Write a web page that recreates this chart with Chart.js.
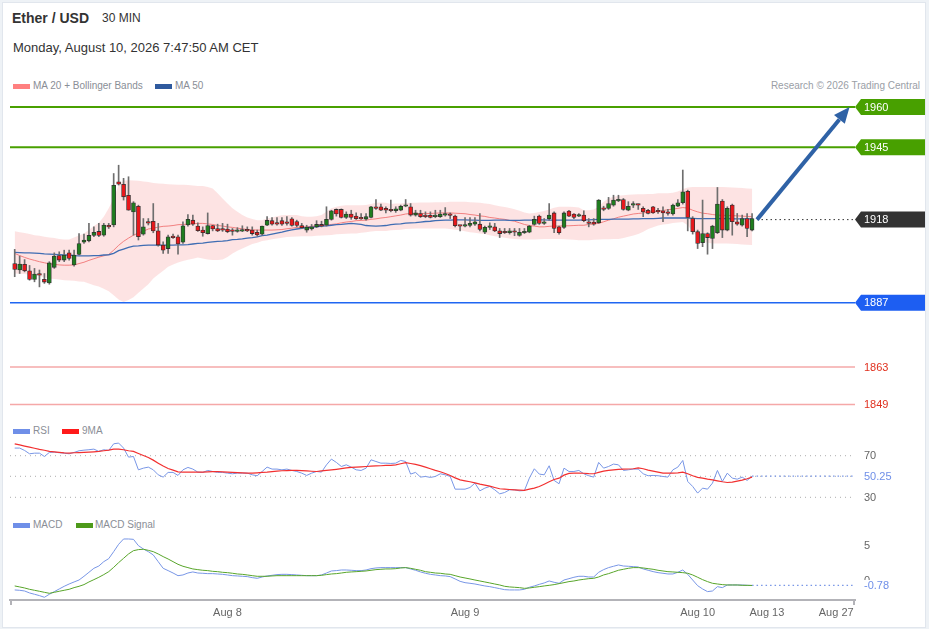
<!DOCTYPE html>
<html>
<head>
<meta charset="utf-8">
<title>Ether / USD 30 MIN</title>
<script src="https://cdn.jsdelivr.net/npm/chart.js@4.4.1/dist/chart.umd.min.js"></script>
<style>
  html, body { margin: 0; padding: 0; }
  body { width: 929px; height: 629px; position: relative; overflow: hidden; background: #eef2f6;
         font-family: "Liberation Sans", Arial, sans-serif; }
  #frame { position: absolute; left: 2px; top: 2px; width: 922px; height: 624px; background: #fff; border: 1px solid #e1e6ed; }
  .txt { position: absolute; white-space: nowrap; line-height: 1; }
  .sw { position: absolute; width: 17px; height: 5px; }
  canvas { position: absolute; left: 0; }
</style>
</head>
<body>
<div id="frame"></div>

<!-- entete -->
<div class="txt" style="left:12px; top:11px; font-size:14px; font-weight:bold; color:#333;">Ether / USD</div>
<div class="txt" style="left:102px; top:12px; font-size:12px; color:#333;">30 MIN</div>
<div class="txt" style="left:13px; top:41px; font-size:13px; color:#333;">Monday, August 10, 2026 7:47:50 AM CET</div>

<!-- legendes -->
<div class="sw" style="left:13px; top:84px; background:#ff8080;"></div>
<div class="txt" style="left:33px; top:81px; font-size:10px; color:#8a8e96;">MA 20 + Bollinger Bands</div>
<div class="sw" style="left:155px; top:84px; background:#2f5a9e;"></div>
<div class="txt" style="left:175px; top:81px; font-size:10px; color:#8a8e96;">MA 50</div>
<div class="txt" style="right:9px; top:81px; font-size:10px; color:#9a9ea6;">Research © 2026 Trading Central</div>

<div class="sw" style="left:13px; top:429px; background:#6f8fe8;"></div>
<div class="txt" style="left:33px; top:426px; font-size:10px; color:#8a8e96;">RSI</div>
<div class="sw" style="left:62px; top:429px; background:#ff1a1a;"></div>
<div class="txt" style="left:82px; top:426px; font-size:10px; color:#8a8e96;">9MA</div>

<div class="sw" style="left:13px; top:523px; background:#6f8fe8;"></div>
<div class="txt" style="left:33px; top:520px; font-size:10px; color:#8a8e96;">MACD</div>
<div class="sw" style="left:76px; top:523px; background:#4d9a1a;"></div>
<div class="txt" style="left:95px; top:520px; font-size:10px; color:#8a8e96;">MACD Signal</div>

<canvas id="priceChart" width="929" height="320" style="top:95px;"></canvas>
<canvas id="rsiChart" width="929" height="72" style="top:436px;"></canvas>
<canvas id="macdChart" width="929" height="97" style="top:532px;"></canvas>

<script>
// BOUGIES 30 MIN
const candleOpen = [
  1901.6, 1899.2, 1901.3, 1898.9, 1895.7, 1897.4, 1895.7, 1894.4, 1900.2, 1904.6,
  1902.9, 1905.6, 1901.1, 1905.0, 1909.6, 1910.1, 1912.1, 1913.6, 1912.2, 1915.8,
  1916.0, 1932.1, 1931.2, 1927.1, 1920.9, 1923.0, 1912.6, 1916.8, 1917.4, 1913.8,
  1908.5, 1907.2, 1911.8, 1911.6, 1909.6, 1916.0, 1917.8, 1915.6, 1914.1, 1912.8,
  1915.8, 1914.7, 1914.5, 1914.5, 1913.8, 1913.6, 1913.7, 1914.2, 1914.1, 1913.3,
  1912.6, 1915.9, 1917.6, 1916.8, 1917.6, 1917.2, 1918.3, 1917.3, 1915.8, 1914.1,
  1914.5, 1915.3, 1916.2, 1915.9, 1918.1, 1921.8, 1921.8, 1918.8, 1920.1, 1919.3,
  1918.8, 1918.2, 1918.8, 1922.8, 1922.8, 1922.2, 1921.8, 1921.3, 1921.5, 1923.0,
  1922.8, 1919.7, 1920.3, 1919.7, 1919.6, 1919.1, 1919.1, 1919.7, 1919.9, 1919.3,
  1915.9, 1915.6, 1915.8, 1916.3, 1916.3, 1913.3, 1915.1, 1915.3, 1913.8, 1913.3,
  1913.1, 1913.8, 1912.1, 1913.1, 1913.3, 1916.2, 1919.3, 1916.6, 1918.3, 1920.5,
  1915.3, 1915.1, 1921.2, 1920.1, 1919.3, 1919.7, 1917.2, 1917.1, 1916.8, 1922.3,
  1922.2, 1923.4, 1925.0, 1925.5, 1921.5, 1923.4, 1923.8, 1922.2, 1921.5, 1922.8,
  1921.5, 1921.3, 1920.9, 1920.1, 1923.0, 1924.3, 1928.6, 1918.4, 1913.5, 1909.4,
  1912.8, 1911.0, 1913.1, 1924.9, 1914.1, 1923.4, 1917.2, 1915.9, 1918.4, 1914.1
];
const candleHigh = [
  1906.9, 1904.4, 1903.1, 1900.9, 1899.8, 1899.2, 1897.9, 1902.3, 1905.6, 1906.0,
  1906.6, 1906.6, 1906.6, 1912.8, 1912.6, 1916.6, 1915.3, 1916.6, 1916.6, 1916.6,
  1935.2, 1938.3, 1933.4, 1934.0, 1924.7, 1923.4, 1918.4, 1918.4, 1924.0, 1916.6,
  1909.7, 1912.2, 1912.6, 1912.2, 1917.2, 1919.9, 1919.7, 1916.8, 1915.3, 1920.5,
  1915.9, 1916.3, 1916.6, 1916.3, 1914.7, 1915.0, 1915.7, 1915.3, 1915.3, 1914.1,
  1915.6, 1919.1, 1918.8, 1918.8, 1918.8, 1919.1, 1918.8, 1917.8, 1916.6, 1915.9,
  1916.2, 1917.6, 1917.4, 1922.8, 1921.5, 1922.0, 1922.0, 1920.9, 1921.5, 1920.5,
  1920.3, 1920.3, 1923.0, 1925.5, 1923.8, 1922.8, 1925.3, 1922.8, 1923.4, 1925.5,
  1924.0, 1921.5, 1921.5, 1920.9, 1920.9, 1921.5, 1921.5, 1922.5, 1920.5, 1919.7,
  1915.9, 1918.8, 1918.8, 1918.8, 1920.3, 1915.6, 1916.8, 1916.6, 1914.7, 1914.7,
  1914.7, 1914.7, 1914.7, 1914.7, 1915.9, 1919.3, 1919.7, 1918.4, 1924.0, 1920.9,
  1915.6, 1920.9, 1921.5, 1920.3, 1920.3, 1921.3, 1918.4, 1918.4, 1925.5, 1923.0,
  1926.3, 1927.1, 1927.1, 1925.9, 1924.7, 1924.7, 1923.8, 1922.8, 1921.8, 1923.0,
  1922.2, 1922.8, 1921.8, 1923.8, 1925.5, 1936.5, 1929.0, 1919.1, 1914.1, 1925.3,
  1913.1, 1915.9, 1930.0, 1925.5, 1922.8, 1923.8, 1920.3, 1919.7, 1920.3, 1920.3
];
const candleLow = [
  1896.7, 1897.9, 1898.5, 1895.4, 1894.8, 1892.9, 1894.2, 1893.9, 1899.8, 1902.3,
  1902.3, 1902.9, 1900.6, 1904.8, 1909.1, 1909.7, 1911.6, 1911.6, 1911.8, 1914.7,
  1915.3, 1930.9, 1925.3, 1921.5, 1912.2, 1910.4, 1912.2, 1916.0, 1913.1, 1908.1,
  1905.4, 1905.4, 1911.0, 1905.1, 1909.1, 1915.6, 1915.8, 1913.6, 1911.8, 1912.6,
  1913.8, 1913.5, 1913.6, 1913.1, 1912.2, 1913.3, 1913.5, 1913.5, 1912.2, 1911.8,
  1912.2, 1915.7, 1915.9, 1915.9, 1915.8, 1915.9, 1915.6, 1915.3, 1914.6, 1913.3,
  1914.1, 1915.0, 1915.3, 1915.6, 1917.8, 1919.3, 1918.6, 1918.4, 1918.1, 1918.1,
  1918.1, 1917.8, 1918.6, 1921.8, 1921.3, 1920.5, 1920.9, 1920.7, 1921.3, 1922.8,
  1919.3, 1919.3, 1918.8, 1918.7, 1918.6, 1918.7, 1918.8, 1919.3, 1918.4, 1915.3,
  1913.8, 1915.3, 1915.3, 1915.8, 1913.8, 1912.8, 1914.3, 1913.5, 1911.3, 1912.8,
  1912.6, 1912.0, 1911.8, 1912.8, 1913.1, 1915.9, 1916.2, 1916.2, 1917.8, 1913.1,
  1912.6, 1914.7, 1919.1, 1918.4, 1919.1, 1917.2, 1915.3, 1915.9, 1916.6, 1921.3,
  1921.8, 1923.0, 1924.7, 1921.5, 1921.3, 1922.5, 1921.8, 1919.1, 1920.1, 1920.3,
  1920.3, 1917.2, 1919.7, 1919.7, 1922.8, 1923.8, 1913.8, 1912.6, 1907.2, 1907.9,
  1905.1, 1907.2, 1912.8, 1911.3, 1913.8, 1912.2, 1915.9, 1915.6, 1911.6, 1913.8
];
const candleClose = [
  1899.4, 1901.4, 1898.9, 1895.7, 1897.7, 1897.3, 1894.7, 1901.9, 1904.4, 1902.9,
  1904.8, 1903.5, 1904.8, 1909.1, 1910.4, 1912.1, 1913.3, 1912.1, 1916.0, 1915.3,
  1930.8, 1931.2, 1926.5, 1921.5, 1924.3, 1911.6, 1915.3, 1916.7, 1913.8, 1908.5,
  1906.6, 1911.6, 1911.3, 1908.9, 1915.7, 1918.1, 1916.3, 1913.9, 1913.1, 1915.8,
  1914.5, 1913.8, 1914.1, 1913.5, 1913.6, 1914.1, 1914.2, 1913.8, 1912.8, 1912.3,
  1915.6, 1917.7, 1916.3, 1916.3, 1916.3, 1916.6, 1915.8, 1915.8, 1915.0, 1915.2,
  1915.3, 1916.2, 1915.6, 1918.1, 1921.3, 1920.1, 1918.8, 1920.1, 1918.8, 1918.3,
  1918.3, 1919.1, 1922.8, 1922.2, 1921.5, 1921.5, 1921.3, 1922.0, 1923.0, 1923.3,
  1919.7, 1920.5, 1919.1, 1919.1, 1918.8, 1919.7, 1920.1, 1920.1, 1919.6, 1915.7,
  1915.6, 1915.8, 1916.6, 1917.2, 1914.3, 1915.1, 1915.6, 1913.8, 1912.8, 1913.1,
  1913.8, 1913.3, 1913.3, 1913.6, 1915.6, 1918.1, 1916.6, 1917.1, 1919.7, 1914.7,
  1913.1, 1920.5, 1919.3, 1918.8, 1919.7, 1917.6, 1916.6, 1916.3, 1925.3, 1921.8,
  1924.0, 1925.3, 1925.5, 1921.8, 1923.0, 1923.8, 1923.4, 1920.9, 1920.3, 1920.5,
  1920.9, 1920.5, 1920.3, 1923.4, 1924.3, 1928.4, 1918.8, 1913.5, 1909.1, 1912.8,
  1911.3, 1915.6, 1923.8, 1914.1, 1922.2, 1917.2, 1916.3, 1918.4, 1914.7, 1918.4
];

// MOYENNES MOBILES ET BANDES DE BOLLINGER
const ma20 = [
  1905.4, 1904.6, 1903.9, 1903.3, 1902.8, 1902.3, 1901.9, 1901.5, 1901.3, 1901.1,
  1901.0, 1901.0, 1901.1, 1901.6, 1902.1, 1902.8, 1903.4, 1904.0, 1904.5, 1905.0,
  1906.6, 1908.4, 1909.9, 1911.1, 1912.2, 1913.0, 1913.7, 1914.5, 1914.8, 1915.2,
  1915.5, 1915.6, 1915.8, 1916.1, 1916.2, 1916.3, 1916.4, 1916.6, 1916.6, 1916.4,
  1916.2, 1915.8, 1915.6, 1915.3, 1915.1, 1914.8, 1914.6, 1914.3, 1914.2, 1914.1,
  1914.1, 1914.1, 1914.1, 1914.2, 1914.3, 1914.6, 1914.8, 1915.1, 1915.2, 1915.3,
  1915.5, 1915.7, 1915.8, 1915.9, 1916.2, 1916.4, 1916.8, 1917.1, 1917.3, 1917.6,
  1917.7, 1917.8, 1918.1, 1918.3, 1918.6, 1918.8, 1919.1, 1919.4, 1919.7, 1920.1,
  1920.3, 1920.3, 1920.3, 1920.3, 1920.3, 1920.4, 1920.5, 1920.5, 1920.5, 1920.4,
  1920.3, 1920.2, 1919.9, 1919.7, 1919.4, 1919.2, 1918.8, 1918.6, 1918.3, 1918.1,
  1917.7, 1917.4, 1916.8, 1916.2, 1915.8, 1915.6, 1915.3, 1915.3, 1915.5, 1915.6,
  1915.6, 1915.7, 1915.7, 1915.8, 1915.9, 1915.9, 1916.2, 1916.4, 1916.6, 1917.2,
  1917.8, 1918.3, 1918.9, 1919.3, 1919.7, 1920.1, 1920.3, 1920.5, 1920.8, 1920.9,
  1921.2, 1921.4, 1921.7, 1921.9, 1922.2, 1922.5, 1922.3, 1921.5, 1920.9, 1920.4,
  1920.2, 1919.9, 1919.7, 1919.6, 1919.6, 1919.5, 1919.4, 1919.3, 1919.2, 1919.1
];
const ma50 = [
  1905.8, 1905.7, 1905.6, 1905.6, 1905.5, 1905.4, 1905.2, 1905.1, 1905.0, 1904.9,
  1904.8, 1904.8, 1904.6, 1904.5, 1904.5, 1904.5, 1904.6, 1904.6, 1904.8, 1904.9,
  1905.4, 1906.4, 1907.0, 1907.6, 1908.1, 1908.2, 1908.4, 1908.5, 1908.5, 1908.5,
  1908.5, 1908.5, 1908.5, 1908.6, 1908.6, 1908.7, 1908.9, 1909.1, 1909.2, 1909.5,
  1909.7, 1909.9, 1910.0, 1910.2, 1910.5, 1910.6, 1910.8, 1911.1, 1911.3, 1911.6,
  1912.0, 1912.2, 1912.6, 1913.0, 1913.3, 1913.8, 1914.2, 1914.5, 1914.7, 1915.0,
  1915.2, 1915.3, 1915.6, 1915.7, 1915.9, 1916.1, 1916.2, 1916.4, 1916.6, 1916.4,
  1916.2, 1915.8, 1915.7, 1915.6, 1915.7, 1915.8, 1916.1, 1916.3, 1916.4, 1916.7,
  1916.8, 1916.9, 1917.1, 1917.3, 1917.4, 1917.6, 1917.7, 1917.8, 1917.8, 1917.9,
  1917.9, 1917.9, 1917.8, 1917.8, 1917.7, 1917.7, 1917.7, 1917.8, 1917.8, 1917.8,
  1917.7, 1917.7, 1917.7, 1917.8, 1917.8, 1917.8, 1917.9, 1917.9, 1917.8, 1917.8,
  1917.8, 1917.8, 1917.8, 1917.8, 1917.8, 1917.9, 1917.9, 1918.0, 1918.1, 1918.1,
  1918.1, 1918.2, 1918.2, 1918.2, 1918.2, 1918.3, 1918.3, 1918.4, 1918.4, 1918.4,
  1918.5, 1918.6, 1918.6, 1918.6, 1918.6, 1918.6, 1918.6, 1918.5, 1918.4, 1918.4,
  1918.4, 1918.4, 1918.4, 1918.4, 1918.4, 1918.3, 1918.3, 1918.3, 1918.3, 1918.3
];
const bbUpper = [
  1913.7, 1913.3, 1913.0, 1912.6, 1912.2, 1912.0, 1911.6, 1911.3, 1911.1, 1910.8,
  1910.6, 1910.6, 1911.3, 1912.1, 1912.8, 1914.1, 1915.6, 1916.8, 1919.1, 1922.2,
  1925.9, 1930.9, 1932.5, 1932.7, 1932.6, 1932.5, 1932.2, 1932.0, 1931.7, 1931.5,
  1931.4, 1931.2, 1931.1, 1931.0, 1931.0, 1930.9, 1930.7, 1930.5, 1930.5, 1930.2,
  1929.6, 1927.8, 1925.9, 1924.0, 1922.2, 1920.9, 1919.7, 1918.8, 1918.2, 1917.8,
  1917.8, 1918.4, 1918.8, 1919.3, 1919.6, 1919.7, 1919.7, 1919.7, 1919.3, 1919.1,
  1919.1, 1919.3, 1919.7, 1920.9, 1922.2, 1922.8, 1923.2, 1923.4, 1923.4, 1923.4,
  1923.4, 1923.5, 1923.8, 1924.3, 1924.4, 1924.3, 1923.8, 1924.0, 1924.0, 1924.2,
  1924.3, 1924.3, 1924.4, 1924.4, 1924.4, 1924.5, 1924.5, 1924.5, 1924.7, 1924.7,
  1924.7, 1924.7, 1924.5, 1924.4, 1924.3, 1924.0, 1923.8, 1923.4, 1923.0, 1922.7,
  1922.3, 1921.9, 1921.3, 1920.7, 1920.3, 1920.5, 1920.8, 1921.2, 1921.8, 1922.4,
  1922.8, 1922.8, 1922.8, 1922.7, 1922.5, 1921.5, 1921.5, 1921.8, 1922.8, 1924.7,
  1925.9, 1926.5, 1926.9, 1927.1, 1927.3, 1927.4, 1927.5, 1927.5, 1927.6, 1927.6,
  1927.8, 1927.8, 1927.8, 1928.0, 1928.5, 1929.3, 1930.0, 1930.2, 1930.2, 1930.2,
  1930.2, 1930.2, 1930.2, 1930.2, 1930.1, 1930.0, 1929.9, 1929.8, 1929.6, 1929.5
];
const bbLower = [
  1897.9, 1897.8, 1897.7, 1897.4, 1897.3, 1896.9, 1896.5, 1896.0, 1895.8, 1895.7,
  1895.4, 1895.3, 1895.2, 1894.9, 1894.8, 1894.2, 1893.5, 1893.0, 1892.2, 1891.3,
  1889.8, 1888.2, 1887.3, 1888.0, 1889.0, 1890.7, 1892.3, 1893.9, 1896.0, 1897.5,
  1898.9, 1900.4, 1901.3, 1902.0, 1902.6, 1903.0, 1903.4, 1903.9, 1903.5, 1903.1,
  1902.9, 1902.9, 1903.1, 1904.1, 1905.4, 1906.4, 1907.2, 1908.1, 1908.9, 1909.4,
  1910.0, 1910.3, 1910.7, 1911.0, 1911.2, 1911.5, 1911.6, 1911.7, 1911.8, 1911.8,
  1911.8, 1912.0, 1912.1, 1912.2, 1912.3, 1912.5, 1912.6, 1912.7, 1912.8, 1912.8,
  1913.1, 1913.3, 1913.6, 1913.8, 1913.8, 1913.8, 1914.0, 1914.1, 1914.2, 1914.5,
  1914.6, 1914.7, 1914.7, 1914.7, 1914.7, 1914.7, 1914.7, 1914.7, 1914.5, 1914.2,
  1914.0, 1913.7, 1913.3, 1913.1, 1912.8, 1912.6, 1912.2, 1911.8, 1911.6, 1911.2,
  1911.0, 1910.8, 1910.7, 1910.6, 1910.6, 1910.6, 1910.7, 1910.8, 1910.8, 1910.8,
  1910.8, 1910.7, 1910.6, 1910.5, 1910.3, 1910.3, 1910.3, 1910.5, 1910.6, 1910.7,
  1910.7, 1910.8, 1910.8, 1911.1, 1911.6, 1912.1, 1912.6, 1913.5, 1914.5, 1915.2,
  1915.8, 1916.2, 1916.4, 1916.7, 1916.9, 1917.1, 1915.9, 1913.5, 1911.6, 1909.7,
  1909.4, 1909.1, 1909.1, 1909.1, 1909.1, 1909.0, 1908.9, 1908.7, 1908.6, 1908.5
];

// RSI + MA 9
const rsi = [
  77.3, 77.3, 75.0, 71.8, 72.4, 72.4, 69.2, 73.1, 73.4, 72.8,
  72.4, 71.8, 73.1, 74.7, 75.3, 75.7, 76.3, 74.1, 75.7, 75.0,
  81.4, 82.1, 77.3, 68.6, 69.2, 56.4, 58.0, 59.0, 56.4, 51.6,
  49.4, 53.9, 53.9, 51.0, 56.4, 58.7, 57.1, 54.2, 53.9, 55.8,
  54.8, 53.9, 53.9, 53.2, 52.6, 53.2, 53.2, 53.2, 51.6, 50.7,
  54.8, 59.0, 57.1, 57.1, 56.4, 57.1, 55.8, 54.8, 53.2, 51.0,
  53.2, 54.8, 54.2, 61.2, 66.7, 63.5, 59.6, 61.2, 59.0, 56.4,
  55.8, 58.0, 66.0, 64.4, 62.8, 62.8, 62.5, 62.8, 65.4, 64.4,
  52.3, 53.9, 49.4, 50.0, 49.1, 50.0, 52.6, 51.6, 50.0, 37.8,
  37.8, 37.8, 39.4, 43.6, 36.2, 38.8, 40.4, 37.2, 33.3, 34.6,
  37.2, 37.2, 36.2, 36.5, 48.4, 57.4, 52.3, 51.6, 60.3, 46.2,
  43.0, 58.0, 54.8, 54.8, 55.8, 52.6, 50.7, 49.4, 63.5, 58.0,
  59.6, 61.9, 61.2, 55.8, 56.4, 57.1, 57.1, 52.6, 50.7, 51.0,
  50.7, 50.0, 49.4, 56.4, 59.0, 65.4, 45.2, 40.4, 34.0, 38.8,
  37.8, 43.6, 55.8, 45.2, 53.2, 48.4, 47.4, 49.4, 46.2, 50.25
];
const rsiMa = [
  81.4, 80.3, 79.2, 78.2, 77.1, 76.0, 75.2, 74.1, 73.7, 73.1,
  72.6, 72.4, 72.8, 72.9, 73.1, 73.4, 73.7, 74.1, 74.7, 75.3,
  76.3, 76.3, 75.7, 74.7, 74.1, 72.1, 70.2, 68.3, 65.7, 62.8,
  60.0, 57.7, 56.1, 54.5, 54.2, 54.2, 54.2, 54.2, 54.2, 54.5,
  54.7, 54.8, 54.5, 54.2, 53.9, 53.7, 53.5, 53.2, 53.2, 53.5,
  53.9, 54.2, 54.7, 55.1, 55.5, 55.6, 55.8, 55.8, 55.6, 55.3,
  55.0, 54.8, 55.3, 55.8, 56.3, 56.9, 57.5, 58.2, 58.7, 59.0,
  59.3, 59.6, 60.0, 60.1, 60.3, 60.6, 60.6, 61.2, 62.2, 63.3,
  62.5, 61.6, 60.4, 59.0, 57.4, 55.8, 54.5, 52.9, 51.0, 48.7,
  46.8, 45.8, 44.9, 43.9, 42.6, 41.7, 40.7, 39.4, 38.2, 37.8,
  37.5, 37.2, 36.9, 36.6, 37.8, 38.8, 40.4, 42.6, 44.9, 47.1,
  48.4, 51.3, 52.9, 53.2, 53.2, 53.1, 52.7, 52.6, 53.9, 55.1,
  55.9, 56.4, 56.9, 57.1, 57.2, 57.4, 58.3, 57.4, 56.1, 55.1,
  54.2, 53.2, 53.2, 53.2, 53.5, 54.2, 52.6, 50.7, 49.1, 48.4,
  47.4, 46.8, 45.8, 44.9, 44.2, 44.6, 45.5, 46.5, 47.8, 49.4
];

// MACD
const macd = [
  -1.42, -1.47, -1.57, -1.85, -2.04, -2.23, -2.47, -2.04, -1.66, -1.28,
  -0.90, -0.57, -0.28, 0.00, 0.53, 1.10, 1.67, 2.00, 2.62, 3.05,
  4.05, 5.10, 5.86, 5.86, 5.81, 4.91, 4.43, 4.05, 3.58, 2.62,
  1.67, 1.34, 1.00, 0.62, 0.72, 1.00, 1.15, 1.00, 0.96, 0.91,
  0.91, 0.86, 0.81, 0.72, 0.62, 0.58, 0.53, 0.48, 0.34, 0.24,
  0.43, 0.58, 0.67, 0.77, 0.81, 0.81, 0.77, 0.72, 0.67, 0.62,
  0.62, 0.62, 0.72, 1.00, 1.29, 1.34, 1.43, 1.43, 1.39, 1.34,
  1.34, 1.43, 1.62, 1.72, 1.77, 1.77, 1.77, 1.77, 1.77, 1.77,
  1.58, 1.39, 1.15, 0.96, 0.81, 0.72, 0.62, 0.58, 0.48, 0.15,
  -0.19, -0.38, -0.47, -0.57, -0.71, -0.85, -0.95, -1.09, -1.23, -1.38,
  -1.42, -1.42, -1.42, -1.33, -1.04, -0.85, -0.62, -0.42, -0.14, -0.33,
  -0.47, 0.00, 0.19, 0.39, 0.53, 0.53, 0.43, 0.43, 1.10, 1.48,
  1.77, 1.96, 2.15, 2.00, 1.96, 1.91, 1.86, 1.58, 1.39, 1.20,
  1.05, 0.96, 0.86, 0.86, 1.10, 1.43, 0.81, 0.00, -0.81, -1.28,
  -1.66, -1.57, -0.95, -1.09, -0.71, -0.71, -0.71, -0.71, -0.76, -0.78
];
const macdSignal = [
  -0.85, -0.99, -1.14, -1.33, -1.47, -1.61, -1.76, -1.90, -1.76, -1.61,
  -1.47, -1.33, -1.09, -0.90, -0.66, -0.28, 0.05, 0.39, 0.77, 1.19,
  1.81, 2.48, 3.10, 3.72, 4.19, 4.34, 4.39, 4.24, 4.05, 3.72,
  3.34, 3.00, 2.62, 2.24, 1.96, 1.77, 1.58, 1.48, 1.39, 1.34,
  1.24, 1.19, 1.10, 1.05, 0.96, 0.86, 0.81, 0.72, 0.62, 0.53,
  0.53, 0.53, 0.58, 0.62, 0.62, 0.62, 0.62, 0.62, 0.62, 0.62,
  0.62, 0.62, 0.67, 0.77, 0.86, 0.91, 1.00, 1.10, 1.15, 1.19,
  1.24, 1.29, 1.39, 1.48, 1.53, 1.58, 1.58, 1.62, 1.72, 1.77,
  1.67, 1.53, 1.39, 1.19, 1.10, 1.00, 0.96, 0.86, 0.81, 0.62,
  0.43, 0.29, 0.15, 0.00, -0.14, -0.28, -0.42, -0.57, -0.71, -0.90,
  -0.99, -1.04, -1.09, -1.19, -1.14, -1.04, -0.95, -0.85, -0.76, -0.66,
  -0.52, -0.38, -0.23, -0.14, 0.00, 0.10, 0.19, 0.24, 0.43, 0.72,
  0.91, 1.15, 1.39, 1.53, 1.67, 1.77, 1.77, 1.72, 1.62, 1.53,
  1.39, 1.29, 1.19, 1.15, 1.10, 1.05, 0.96, 0.72, 0.39, 0.05,
  -0.23, -0.47, -0.57, -0.66, -0.71, -0.71, -0.71, -0.76, -0.76, -0.78
];

// AXE X (index de bougie) ET NIVEAUX
const tickIndex = [43, 91, 138, 152, 166];
const tickLabels = ['Aug 8', 'Aug 9', 'Aug 10', 'Aug 13', 'Aug 27'];
const resistances = [1960, 1945];
const pivot = 1918;
const supports = [1887, 1863, 1849];
const arrowFrom = [150, 1918];
const arrowTo = [168.7, 1960];
const rsiLevels = [70, 50, 30];
const rsiLast = 50.25;
const macdTicks = [5, 0];
const macdLast = -0.78;

const X_MIN = -0.95, X_MAX = 169.8;
const FONT = '"Liberation Sans", Arial, sans-serif';
const GREEN = '#1f7d1f', RED = '#e8181c';
const LAST = candleClose.length - 1;

const pts = arr => arr.map((v, i) => ({ x: i, y: v }));
const hline = (v, from, color, width, dash, order) => ({
  type: 'line', data: [{ x: from, y: v }, { x: X_MAX, y: v }],
  borderColor: color, borderWidth: width, borderDash: dash || [], pointRadius: 0, order: order
});

function xScale(show) {
  return {
    type: 'linear', min: X_MIN, max: X_MAX, offset: false, display: show,
    afterBuildTicks: s => { s.ticks = tickIndex.map(v => ({ value: v })); },
    afterFit: s => { if (show) s.height = 29; },
    grid: { display: false, drawTicks: false },
    border: { display: true, color: '#b3b3b8', width: 2 },
    ticks: {
      padding: 6, color: '#666', font: { family: FONT, size: 11 }, maxRotation: 0, autoSkip: false,
      callback: v => tickLabels[tickIndex.indexOf(v)]
    }
  };
}
const hiddenY = (min, max) => ({ type: 'linear', display: false, min: min, max: max });
const baseOptions = (yMin, yMax, showX) => ({
  responsive: false, animation: false, events: [],
  layout: { padding: { left: 10, right: 74, top: 0, bottom: 0 } },
  plugins: { legend: { display: false }, tooltip: { enabled: false } },
  scales: { x: xScale(showX), y: hiddenY(yMin, yMax) }
});

function drawTag(ctx, x, y, text, bg) {
  ctx.fillStyle = bg;
  ctx.beginPath();
  ctx.moveTo(x, y);
  ctx.lineTo(x + 6, y - 8);
  ctx.lineTo(x + 70, y - 8);
  ctx.lineTo(x + 70, y + 8);
  ctx.lineTo(x + 6, y + 8);
  ctx.closePath();
  ctx.fill();
  ctx.fillStyle = '#fff';
  ctx.fillText(text, x + 9, y + 0.5);
}

// etiquettes de droite + fleche de projection
const priceDecor = {
  id: 'priceDecor',
  afterDraw(chart) {
    const { ctx, chartArea, scales } = chart;
    const y = scales.y, x = scales.x;
    ctx.save();
    // fleche
    const x0 = x.getPixelForValue(arrowFrom[0]), y0 = y.getPixelForValue(arrowFrom[1]);
    const x1 = x.getPixelForValue(arrowTo[0]), y1 = y.getPixelForValue(arrowTo[1]);
    const a = Math.atan2(y1 - y0, x1 - x0);
    const L = 16, W = 7;
    const bx = x1 - L * Math.cos(a), by = y1 - L * Math.sin(a);
    ctx.strokeStyle = '#2f62a6';
    ctx.lineWidth = 4;
    ctx.beginPath(); ctx.moveTo(x0, y0); ctx.lineTo(bx, by); ctx.stroke();
    ctx.fillStyle = '#2f62a6';
    ctx.beginPath();
    ctx.moveTo(x1, y1);
    ctx.lineTo(bx - W * Math.sin(a), by + W * Math.cos(a));
    ctx.lineTo(bx + W * Math.sin(a), by - W * Math.cos(a));
    ctx.closePath(); ctx.fill();

    ctx.font = '11px ' + FONT;
    ctx.textBaseline = 'middle';
    const tx = chartArea.right;
    resistances.forEach(v => drawTag(ctx, tx, y.getPixelForValue(v), String(v), '#48a000'));
    drawTag(ctx, tx, y.getPixelForValue(pivot), String(pivot), '#333333');
    drawTag(ctx, tx, y.getPixelForValue(supports[0]), String(supports[0]), '#1d5ef2');
    ctx.fillStyle = '#e0301e';
    supports.slice(1).forEach(v => ctx.fillText(String(v), tx + 9, y.getPixelForValue(v) + 0.5));
    ctx.restore();
  }
};

function rightLabels(id, items) {
  return {
    id: id,
    afterDraw(chart) {
      const { ctx, chartArea, scales: { y } } = chart;
      ctx.save();
      ctx.font = '11px ' + FONT;
      ctx.textBaseline = 'middle';
      items.forEach(it => {
        const py = y.getPixelForValue(it.value);
        if (it.bg) { ctx.fillStyle = '#fff'; ctx.fillRect(chartArea.right + 4, py - 5.5, 44, 12); }
        ctx.fillStyle = it.color;
        ctx.fillText(it.text, chartArea.right + 9, py + 0.5);
      });
      if (id === 'macdLabels') {
        ctx.strokeStyle = '#b3b3b8';
        ctx.lineWidth = 2;
        ctx.beginPath();
        ctx.moveTo(chartArea.left + 1, chartArea.bottom); ctx.lineTo(chartArea.left + 1, chartArea.bottom + 5);
        ctx.moveTo(chartArea.right - 1, chartArea.bottom); ctx.lineTo(chartArea.right - 1, chartArea.bottom + 5);
        ctx.stroke();
      }
      ctx.restore();
    }
  };
}

// GRAPHIQUE PRIX
new Chart(document.getElementById('priceChart'), {
  type: 'bar',
  data: {
    datasets: [
      { type: 'line', data: pts(bbUpper), borderWidth: 0, pointRadius: 0, fill: '+1', backgroundColor: 'rgba(252, 200, 200, 0.5)', order: 20 },
      { type: 'line', data: pts(bbLower), borderWidth: 0, pointRadius: 0, order: 21 },
      { type: 'line', data: pts(ma20), borderColor: 'rgba(240, 110, 110, 0.85)', borderWidth: 1, pointRadius: 0, order: 8 },
      { type: 'line', data: pts(ma50), borderColor: '#3f6db3', borderWidth: 1.3, pointRadius: 0, order: 7 },
      hline(resistances[0], X_MIN, '#48a000', 2, null, 9),
      hline(resistances[1], X_MIN, '#48a000', 2, null, 9),
      hline(supports[0], X_MIN, '#1f66f2', 1.5, null, 9),
      hline(supports[1], X_MIN, '#f5a8a8', 1.5, null, 9),
      hline(supports[2], X_MIN, '#f5a8a8', 1.5, null, 9),
      hline(pivot, arrowFrom[0], '#333', 1, [1.5, 3], 9),
      {
        data: candleLow.map((l, i) => ({ x: i, y: [l, candleHigh[i]] })),
        backgroundColor: '#6e6e6e', barThickness: 1, grouped: false, order: 3
      },
      {
        data: candleOpen.map((o, i) => ({ x: i, y: [o, candleClose[i]] })),
        backgroundColor: c => candleClose[c.dataIndex] >= candleOpen[c.dataIndex] ? GREEN : RED,
        borderColor: 'rgba(35, 35, 35, 0.9)', borderWidth: 0.8, borderSkipped: false,
        barThickness: 4, minBarLength: 1.5, grouped: false, order: 2
      }
    ]
  },
  options: baseOptions(1845.1, 1964.5, false),
  plugins: [priceDecor]
});

// GRAPHIQUE RSI
new Chart(document.getElementById('rsiChart'), {
  type: 'line',
  data: {
    datasets: [
      { data: pts(rsiMa), borderColor: '#f23030', borderWidth: 1.2, pointRadius: 0, order: 1 },
      { data: pts(rsi), borderColor: '#7896e6', borderWidth: 1, pointRadius: 0, order: 2 },
      ...rsiLevels.map(v => hline(v, X_MIN, '#bdbdbd', 1.2, [1, 4], 5)),
      hline(rsiLast, LAST, '#7896e6', 1.2, [1.5, 3], 4)
    ]
  },
  options: baseOptions(19.7, 88.9, false),
  plugins: [rightLabels('rsiLabels', [
    { value: rsiLevels[0], text: String(rsiLevels[0]), color: '#666' },
    { value: rsiLast, text: rsiLast.toFixed(2), color: '#6f8fe8' },
    { value: rsiLevels[2], text: String(rsiLevels[2]), color: '#666' }
  ])]
});

// GRAPHIQUE MACD
new Chart(document.getElementById('macdChart'), {
  type: 'line',
  data: {
    datasets: [
      { data: pts(macd), borderColor: '#7896e6', borderWidth: 1, pointRadius: 0, order: 2 },
      { data: pts(macdSignal), borderColor: '#58a52a', borderWidth: 1, pointRadius: 0, order: 1 },
      hline(macdLast, LAST, '#7896e6', 1.2, [1.5, 3], 4)
    ]
  },
  options: baseOptions(-2.857, 6.857, true),
  plugins: [rightLabels('macdLabels', [
    { value: macdTicks[0], text: String(macdTicks[0]), color: '#666' },
    { value: macdTicks[1], text: String(macdTicks[1]), color: '#666' },
    { value: macdLast, text: macdLast.toFixed(2), color: '#6f8fe8', bg: true }
  ])]
});
</script>
</body>
</html>
